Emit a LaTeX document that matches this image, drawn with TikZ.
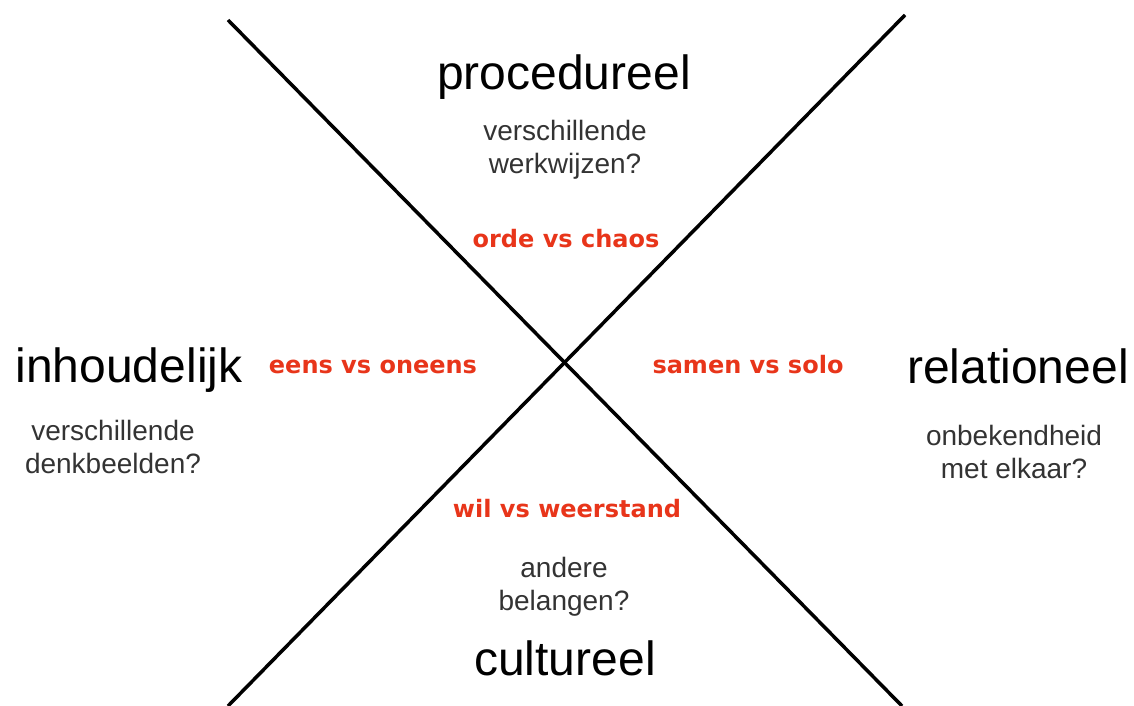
\documentclass[tikz,border=0pt]{standalone}
\usepackage{fontspec}
\setmainfont{Liberation Sans}
\newfontfamily\redfont{DejaVu Sans}
\definecolor{conflictred}{HTML}{E8351A}
\tikzset{
  kop/.style={anchor=base,inner sep=0pt,font=\fontsize{48}{56}\selectfont},
  vraag/.style={anchor=north,inner sep=0pt,align=center,text=black!80,font=\fontsize{28}{33}\selectfont},
  spanning/.style={anchor=base,inner sep=0pt,text=conflictred,font=\redfont\bfseries\fontsize{24}{28}\selectfont},
  kruis/.style={line width=3.5pt}
}
\begin{document}
\begin{tikzpicture}[x=1pt,y=-1pt]
\useasboundingbox (0,0) rectangle (1134,706);
\coordinate (linksboven) at (228,20);
\coordinate (rechtsonder) at (902,706);
\coordinate (rechtsboven) at (905,15);
\coordinate (linksonder) at (228,706);
\draw[kruis] (linksboven) -- (rechtsonder);
\draw[kruis] (rechtsboven) -- (linksonder);
% boven
\node[kop] (proc) at (564,90) {procedureel};
\node[vraag] (procvraag) at (565,120) {verschillende\\werkwijzen?};
\node[spanning] (orde) at (566,247) {orde vs chaos};
% links
\node[kop] (inhoud) at (129,382) {inhoudelijk};
\node[vraag] (inhoudvraag) at (113,420) {verschillende\\denkbeelden?};
\node[spanning] (eens) at (373,373) {eens vs oneens};
% rechts
\node[kop] (relatie) at (1018,383) {relationeel};
\node[vraag] (relatievraag) at (1014,425) {onbekendheid\\met elkaar?};
\node[spanning] (samen) at (748,373) {samen vs solo};
% onder
\node[spanning] (wil) at (567,517) {wil vs weerstand};
\node[vraag] (cultvraag) at (564,557) {andere\\belangen?};
\node[kop] (cult) at (565,675) {cultureel};
\end{tikzpicture}
\end{document}
